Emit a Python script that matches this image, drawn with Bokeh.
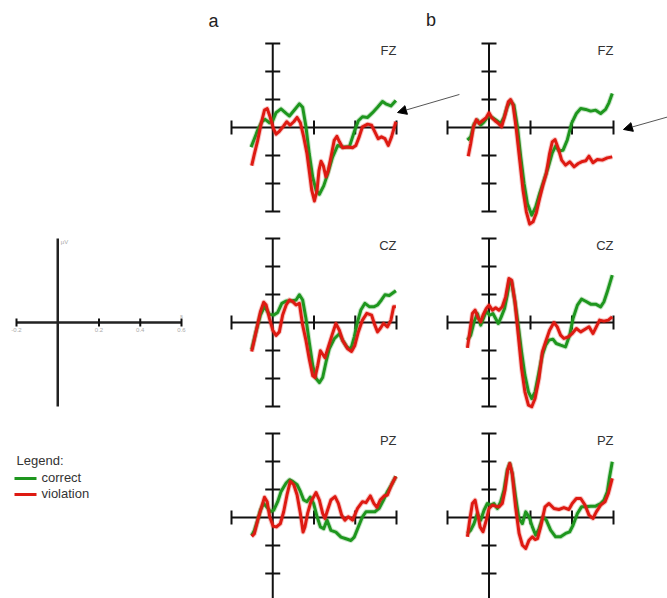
import math
from bokeh.plotting import figure
from bokeh.models import Range1d, Arrow, NormalHead
from bokeh.core.properties import value
from bokeh.embed import file_html
from bokeh.resources import INLINE

# ---------------- data (time in ms, amplitude in µV) ----------------
X_TICKS = [-200, 200, 400, 600]
Y_TICKS = [-6, -4, -2, 2, 4, 6]
SCALE_TICKS = [-0.2, 0.2, 0.4, 0.6]
SCALE_LABELS = ["-0.2", "0.2", "0.4", "0.6"]
ELECTRODES = ["FZ", "CZ", "PZ"]
CONDITIONS = ["correct", "violation"]

A_FZ_CORRECT_T = [-105, -89, -73, -53, -37, -16, 0, 16, 40, 65, 81, 105, 129, 145, 161, 177, 194, 210, 226, 247, 266, 290, 315, 339, 371, 395, 415, 435, 460, 484, 508, 532, 548, 573, 597]
A_FZ_CORRECT_V = [-1.40, -0.80, -0.19, 0.41, 0.58, 0.34, 0.48, 1.06, 1.33, 1.01, 0.82, 1.25, 1.69, 1.45, 0.05, -1.88, -3.57, -4.48, -4.77, -4.17, -3.33, -2.12, -1.28, -1.40, -1.40, -0.31, 0.48, 0.77, 0.72, 1.06, 1.45, 1.86, 1.69, 1.54, 1.93]
A_FZ_VIOL_T = [-102, -89, -73, -56, -40, -27, -13, 3, 16, 32, 52, 68, 84, 102, 118, 134, 150, 166, 179, 189, 202, 215, 224, 234, 245, 258, 269, 282, 298, 311, 324, 339, 363, 387, 403, 419, 435, 460, 479, 495, 511, 527, 544, 560, 576, 589, 597]
A_FZ_VIOL_V = [-2.72, -1.88, -0.92, 0.29, 1.25, 1.35, 0.77, -0.07, -0.48, -0.27, 0.10, 0.41, 0.17, 0.41, 0.72, 0.34, -0.67, -1.88, -3.33, -4.48, -5.25, -4.48, -3.08, -2.41, -2.72, -3.52, -3.08, -2.12, -0.92, -0.63, -1.04, -1.45, -1.40, -1.45, -1.28, -0.67, 0.05, 0.24, 0.17, -0.31, -0.80, -0.67, -0.80, -1.28, -0.67, 0.00, 0.41]

B_FZ_CORRECT_T = [-104, -88, -72, -56, -40, -24, -3, 16, 35, 56, 72, 88, 104, 120, 137, 153, 169, 185, 206, 225, 244, 265, 286, 305, 321, 337, 357, 377, 398, 421, 442, 466, 490, 514, 538, 562, 578, 594]
B_FZ_CORRECT_V = [-0.90, -0.67, 0.24, 0.52, 0.17, 0.40, 0.81, 0.71, 0.52, 0.29, 0.71, 1.48, 1.90, 1.60, 0.05, -2.10, -4.00, -5.43, -6.26, -5.67, -4.71, -3.76, -2.81, -1.81, -1.33, -1.67, -1.62, -0.90, 0.29, 1.00, 1.36, 1.29, 1.17, 1.24, 1.00, 1.29, 1.76, 2.43]
B_FZ_VIOL_T = [-100, -88, -75, -61, -48, -32, -13, 0, 13, 29, 45, 61, 77, 93, 104, 116, 132, 148, 164, 180, 196, 212, 228, 244, 260, 276, 292, 305, 318, 334, 350, 369, 389, 410, 430, 446, 466, 482, 501, 522, 546, 570, 594]
B_FZ_VIOL_V = [-2.05, -1.14, 0.05, 0.57, 0.29, 0.48, 0.71, 1.05, 0.71, 0.48, 0.29, 0.05, 0.88, 1.83, 2.00, 1.60, -0.19, -2.33, -4.48, -6.02, -6.90, -6.74, -6.10, -5.07, -4.12, -3.29, -1.86, -1.02, -0.86, -1.50, -2.33, -2.69, -2.45, -2.81, -2.57, -2.45, -2.38, -2.05, -2.52, -2.29, -2.33, -2.17, -2.10]

A_CZ_CORRECT_T = [-102, -81, -60, -40, -16, 5, 24, 44, 65, 89, 113, 129, 145, 161, 177, 194, 210, 226, 242, 258, 274, 298, 323, 339, 360, 379, 395, 411, 427, 447, 468, 492, 508, 527, 544, 565, 597]
A_CZ_CORRECT_V = [-1.93, -0.63, 0.53, 1.13, 0.58, 0.53, 0.72, 1.37, 1.54, 1.54, 1.61, 1.98, 1.61, 0.29, -1.40, -3.08, -4.00, -4.29, -3.93, -2.84, -1.88, -1.16, -0.80, -1.28, -1.76, -1.88, -1.04, 0.05, 0.89, 1.37, 1.13, 1.13, 1.25, 1.61, 1.98, 1.93, 2.27]
A_CZ_VIOL_T = [-102, -81, -60, -44, -32, -16, 0, 16, 32, 48, 65, 81, 97, 113, 129, 145, 161, 177, 194, 205, 218, 231, 242, 253, 269, 287, 306, 323, 339, 363, 382, 398, 415, 435, 456, 479, 495, 508, 521, 537, 556, 573, 586, 597]
A_CZ_VIOL_V = [-2.07, -0.67, 0.77, 1.45, 1.25, 0.29, -0.55, -0.92, -0.67, 0.53, 1.25, 1.61, 1.49, 1.25, 1.37, -0.19, -1.28, -2.60, -3.81, -3.93, -3.08, -2.02, -2.27, -2.51, -1.76, -0.92, -0.07, -0.55, -1.28, -1.88, -2.07, -1.64, -0.67, 0.17, 0.65, 0.53, -0.19, -0.67, -0.43, -0.07, -0.31, 0.17, 1.13, 1.13]

B_CZ_CORRECT_T = [-104, -88, -72, -56, -40, -24, -13, 3, 19, 32, 45, 59, 75, 88, 100, 109, 125, 141, 157, 173, 190, 206, 222, 241, 257, 273, 289, 308, 324, 345, 369, 389, 405, 426, 446, 466, 490, 514, 538, 554, 570, 594]
B_CZ_CORRECT_V = [-1.26, -0.90, 0.05, 0.64, -0.19, 0.40, 0.81, 0.52, 0.64, 0.29, -0.07, 0.40, 1.00, 1.95, 3.02, 2.90, 1.48, -0.19, -2.10, -3.76, -4.95, -5.43, -4.95, -3.52, -2.33, -1.62, -1.26, -1.19, -1.50, -1.62, -1.74, -0.90, 0.29, 1.24, 1.67, 1.52, 1.31, 1.31, 1.12, 1.48, 2.19, 3.38]
B_CZ_VIOL_T = [-104, -93, -80, -67, -51, -40, -29, -13, 0, 16, 32, 48, 64, 80, 96, 109, 125, 141, 157, 173, 190, 206, 222, 241, 257, 273, 292, 313, 329, 345, 361, 382, 401, 421, 442, 463, 482, 501, 517, 533, 554, 575, 594]
B_CZ_VIOL_V = [-1.81, -0.67, 0.64, 0.88, 0.29, 0.05, 0.52, 1.00, 1.24, 0.88, 1.05, 0.88, 1.12, 1.83, 3.14, 3.02, 1.48, -0.90, -3.29, -4.95, -5.90, -6.02, -5.43, -4.00, -2.10, -1.38, -0.55, 0.00, -0.31, -0.90, -1.14, -1.02, -0.79, -0.43, -0.67, -0.48, -0.31, -0.79, -0.31, 0.17, 0.10, 0.17, 0.40]

A_PZ_CORRECT_T = [-102, -89, -73, -60, -44, -27, -11, 5, 24, 40, 65, 81, 97, 118, 134, 150, 166, 182, 198, 215, 231, 247, 263, 282, 306, 331, 355, 379, 395, 415, 435, 452, 473, 495, 516, 537, 556, 576, 597]
A_PZ_CORRECT_V = [-1.28, -0.92, -0.19, 0.53, 1.01, 0.72, 0.41, 0.53, 1.13, 1.85, 2.46, 2.70, 2.58, 2.34, 1.86, 1.25, 1.13, 1.45, 1.01, 0.05, -0.67, -0.80, -0.19, -0.92, -1.04, -1.40, -1.52, -1.64, -1.40, -0.67, 0.05, 0.41, 0.41, 0.41, 0.65, 1.25, 1.86, 2.34, 2.94]
A_PZ_VIOL_T = [-102, -89, -73, -56, -40, -27, -15, 2, 18, 37, 53, 69, 85, 102, 118, 134, 147, 156, 169, 185, 210, 226, 242, 253, 266, 282, 302, 318, 334, 350, 366, 387, 411, 435, 452, 473, 490, 505, 521, 540, 556, 576, 597]
A_PZ_VIOL_V = [-1.35, -1.16, -0.19, 0.65, 1.45, 1.13, 0.05, -0.63, -0.67, -0.43, 0.41, 1.61, 2.58, 2.34, 1.61, 0.29, -1.04, -0.67, 0.29, 1.13, 1.78, 1.25, 0.29, -0.07, 0.53, 1.25, 1.49, 1.01, 0.17, -0.19, 0.05, -0.19, 0.65, 1.13, 1.06, 1.54, 1.01, 0.72, 1.25, 1.54, 1.61, 2.34, 2.94]

B_PZ_CORRECT_T = [-104, -88, -72, -56, -40, -24, -8, 8, 24, 40, 56, 72, 88, 100, 112, 128, 144, 161, 177, 193, 209, 225, 241, 260, 276, 297, 321, 345, 369, 389, 405, 426, 446, 466, 490, 514, 538, 554, 570, 581, 594]
B_PZ_CORRECT_V = [-1.14, -0.90, -0.43, 0.29, -0.19, 0.52, 1.00, 0.88, 1.00, 0.64, 1.12, 1.95, 3.38, 3.86, 3.14, 1.48, -0.07, -0.43, 0.40, 0.05, -0.67, -1.26, -0.79, 0.05, -0.19, -0.90, -1.38, -1.38, -1.14, -1.02, -0.55, 0.29, 0.76, 0.76, 0.81, 0.81, 1.00, 1.24, 1.83, 2.90, 3.98]
B_PZ_VIOL_T = [-104, -93, -80, -67, -56, -43, -29, -13, 0, 16, 32, 48, 64, 77, 90, 100, 112, 128, 145, 161, 177, 193, 209, 222, 234, 249, 270, 289, 313, 337, 361, 385, 401, 421, 442, 463, 482, 501, 517, 538, 559, 575, 594]
B_PZ_VIOL_V = [-1.38, -0.19, 1.00, 1.24, 0.40, -0.67, -1.02, -0.19, 0.64, 0.88, 0.81, 0.76, 1.00, 1.95, 3.38, 3.86, 3.14, 0.76, -1.14, -1.98, -2.21, -1.62, -1.38, -1.57, -1.50, -0.67, 0.76, 1.00, 0.64, 0.57, 0.71, 0.57, 1.00, 1.36, 1.36, 0.88, 0.17, -0.07, 0.40, 0.88, 1.12, 1.71, 2.79]

CURVES = {
    ("a", "FZ"): (A_FZ_CORRECT_T, A_FZ_CORRECT_V, A_FZ_VIOL_T, A_FZ_VIOL_V),
    ("b", "FZ"): (B_FZ_CORRECT_T, B_FZ_CORRECT_V, B_FZ_VIOL_T, B_FZ_VIOL_V),
    ("a", "CZ"): (A_CZ_CORRECT_T, A_CZ_CORRECT_V, A_CZ_VIOL_T, A_CZ_VIOL_V),
    ("b", "CZ"): (B_CZ_CORRECT_T, B_CZ_CORRECT_V, B_CZ_VIOL_T, B_CZ_VIOL_V),
    ("a", "PZ"): (A_PZ_CORRECT_T, A_PZ_CORRECT_V, A_PZ_VIOL_T, A_PZ_VIOL_V),
    ("b", "PZ"): (B_PZ_CORRECT_T, B_PZ_CORRECT_V, B_PZ_VIOL_T, B_PZ_VIOL_V),
}

# ---------------- layout ----------------
W, H = 667, 598
GREEN = "#1e961e"
RED = "#de1a12"
AXIS = "#111111"
FONT = "Liberation Sans"


def x_range(v0, p0, v1, p1):
    s = (v1 - v0) / (p1 - p0)
    return Range1d(start=v0 - p0 * s, end=v0 + (W - p0) * s)


def y_range(v0, p0, v1, p1):
    # p measured from top of frame
    s = (v1 - v0) / (p1 - p0)
    return Range1d(start=v0 + (H - p0) * s, end=v0 - p0 * s)


p = figure(width=W, height=H, output_backend="svg", toolbar_location=None,
           x_axis_type=None, y_axis_type=None, min_border=0,
           x_range=Range1d(0, W), y_range=Range1d(H, 0))
p.outline_line_color = None
p.background_fill_color = "white"
p.border_fill_color = "white"

p.extra_x_ranges = {
    "a": x_range(-200, 231, 600, 396),
    "b": x_range(-200, 447, 600, 613),
    "s": x_range(-0.2, 16, 0.6, 181),
}
p.extra_y_ranges = {
    "FZ": y_range(0, 127, 6, 43),
    "CZ": y_range(0, 322, 6, 238),
    "PZ": y_range(0, 517, 6, 433),
}

for col in ["a", "b"]:
    for el in ELECTRODES:
        kw = dict(x_range_name=col, y_range_name=el)
        # axes
        p.segment(x0=[X_TICKS[0], 0], y0=[0, Y_TICKS[0]], x1=[X_TICKS[-1], 0], y1=[0, Y_TICKS[-1]],
                  line_color=AXIS, line_width=2, **kw)
        p.scatter(x=X_TICKS, y=[0] * len(X_TICKS), marker="dash", angle=math.pi / 2, size=14,
                  line_color=AXIS, line_width=2, **kw)
        p.scatter(x=[0] * len(Y_TICKS), y=Y_TICKS, marker="dash", size=15,
                  line_color=AXIS, line_width=2, **kw)
        ct, cv, vt, vv = CURVES[(col, el)]
        p.line(ct, cv, line_color=GREEN, line_width=5, line_alpha=0.25, line_join="round", **kw)
        p.line(ct, cv, line_color=GREEN, line_width=3, line_join="round", **kw)
        p.line(vt, vv, line_color=RED, line_width=5, line_alpha=0.25, line_join="round", **kw)
        p.line(vt, vv, line_color=RED, line_width=3, line_join="round", **kw)
        p.text(x=[X_TICKS[-1]], y=[Y_TICKS[-1]], text=[el], text_align="right",
               text_baseline="middle", y_offset=7, text_font=value(FONT),
               text_font_size="13px", text_color="#333333", **kw)

# scale diagram
skw = dict(x_range_name="s", y_range_name="CZ")
p.segment(x0=[SCALE_TICKS[0], 0], y0=[0, -6], x1=[SCALE_TICKS[-1], 0], y1=[0, 6],
          line_color="#222222", line_width=2.5, **skw)
p.scatter(x=SCALE_TICKS, y=[0] * len(SCALE_TICKS), marker="dash", angle=math.pi / 2, size=8,
          line_color="#111111", line_width=2, **skw)
p.text(x=SCALE_TICKS, y=[0] * len(SCALE_TICKS), text=SCALE_LABELS, text_align="center",
       text_baseline="middle", y_offset=7, text_font=value(FONT), text_font_size="6px",
       text_color="#aaaaaa", **skw)
p.text(x=[SCALE_TICKS[-1]], y=[0], text=["s"], text_align="center", text_baseline="middle",
       y_offset=-7, text_font=value(FONT), text_font_size="6px", text_color="#aaaaaa", **skw)
p.text(x=[0], y=[6], text=["µV"], text_align="left", text_baseline="middle",
       x_offset=3, y_offset=3, text_font=value(FONT), text_font_size="6px",
       text_color="#aaaaaa", **skw)

# arrows
p.add_layout(Arrow(end=NormalHead(size=9, fill_color="black", line_color="black"),
                   x_start=905, y_start=2.36, x_end=605, y_end=1.07,
                   line_color="#555555", line_width=1, x_range_name="a", y_range_name="FZ"))
p.add_layout(Arrow(end=NormalHead(size=9, fill_color="black", line_color="black"),
                   x_start=870, y_start=0.79, x_end=648, y_end=-0.14,
                   line_color="#555555", line_width=1, x_range_name="b", y_range_name="FZ"))

# panel letters
p.text(x=[213, 430.5], y=[20, 19], text=["a", "b"], text_align="center", text_baseline="middle",
       text_font=value(FONT), text_font_size="18px", text_color="#222222")

# legend
p.text(x=[16], y=[460], text=["Legend:"], text_align="left", text_baseline="middle",
       text_font=value(FONT), text_font_size="13px", text_color="#333333")
p.segment(x0=[14, 14], y0=[478, 494], x1=[36, 36], y1=[478, 494],
          line_color=[GREEN, RED], line_width=3.2)
p.text(x=[41, 41], y=[477, 493], text=CONDITIONS, text_align="left", text_baseline="middle",
       text_font=value(FONT), text_font_size="13px", text_color="#333333")

open("out.html", "w").write(file_html(p, INLINE))
